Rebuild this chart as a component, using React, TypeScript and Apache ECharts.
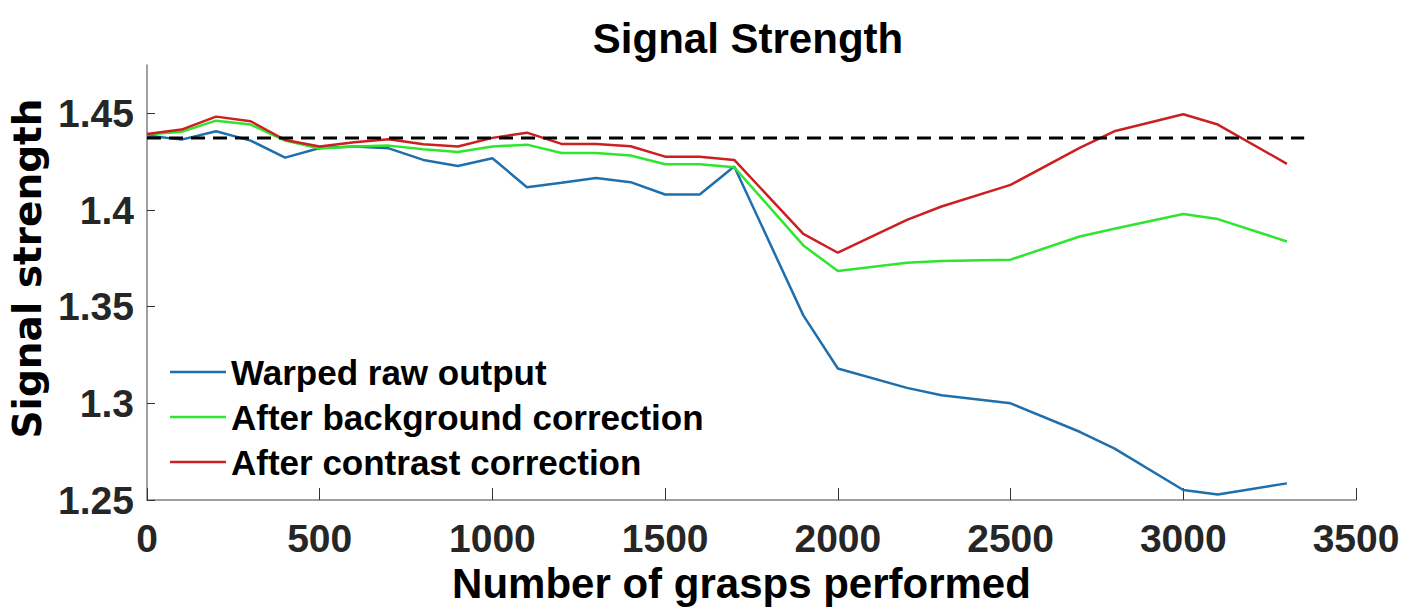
import React, { useEffect, useRef } from "react";
import * as echarts from "echarts";

const grasps = [0, 100, 200, 300, 400, 500, 600, 700, 800, 900, 1000, 1100, 1200, 1300, 1400, 1500, 1600, 1700, 1900, 2000, 2200, 2300, 2500, 2700, 2800, 3000, 3100, 3300];
const warpedRaw = [1.4385, 1.4364, 1.4407, 1.4359, 1.4271, 1.4321, 1.4328, 1.4319, 1.4259, 1.4228, 1.4268, 1.4118, 1.4141, 1.4166, 1.4144, 1.408, 1.408, 1.4225, 1.3455, 1.318, 1.308, 1.3042, 1.3, 1.2853, 1.2767, 1.2552, 1.2529, 1.2586];
const backgroundCorr = [1.439, 1.4405, 1.4462, 1.4442, 1.4359, 1.4318, 1.4328, 1.4333, 1.4314, 1.43, 1.4328, 1.4338, 1.4295, 1.4295, 1.4282, 1.4237, 1.4237, 1.4221, 1.3817, 1.3684, 1.3727, 1.3736, 1.3743, 1.3863, 1.3903, 1.3979, 1.3953, 1.3837];
const contrastCorr = [1.4393, 1.4416, 1.4483, 1.4459, 1.4362, 1.4328, 1.435, 1.4366, 1.434, 1.4328, 1.4373, 1.44, 1.4342, 1.4342, 1.433, 1.4276, 1.4276, 1.4259, 1.3877, 1.3779, 1.3949, 1.4018, 1.413, 1.4321, 1.4407, 1.4495, 1.4442, 1.4239];
const referenceX = [0, 3350];
const referenceLevel = 1.4373;
const yTicks = [1.25, 1.3, 1.35, 1.4, 1.45];
const seriesNames = ["Warped raw output", "After background correction", "After contrast correction"];

export default function App() {
  const ref = useRef<HTMLDivElement>(null);
  useEffect(() => {
    if (!ref.current) return;
    const chart = echarts.init(ref.current, null, { renderer: "svg" });
    const pair = (ys: number[]) => grasps.map((x, i) => [x, ys[i]]);
    const lineSeries = (name: string, ys: number[], color: string) => ({
      name,
      type: "line",
      data: pair(ys),
      symbol: "none",
      showSymbol: false,
      lineStyle: { color, width: 2.5 },
      itemStyle: { color },
      z: 3,
    });
    chart.setOption({
      animation: false,
      backgroundColor: "#ffffff",
      graphic: [
        {
          type: "text",
          x: 748,
          y: 38,
          style: {
            text: "Signal Strength",
            fill: "#000",
            font: "bold 42px 'Liberation Sans', Arial, sans-serif",
            textAlign: "center",
            textVerticalAlign: "middle",
          },
        },
      ],
      grid: { left: 141, right: 56, top: 65, bottom: 110, containLabel: false },
      legend: {
        data: seriesNames,
        orient: "vertical",
        left: 165,
        top: 347,
        icon: "rect",
        itemWidth: 56,
        itemHeight: 2.5,
        itemGap: 5,
        textStyle: {
          fontSize: 35,
          fontWeight: "bold",
          color: "#000",
          fontFamily: "'Liberation Sans', Arial, sans-serif",
          lineHeight: 40,
        },
      },
      xAxis: {
        type: "value",
        min: 0,
        max: 3500,
        interval: 500,
        name: "Number of grasps performed",
        nameLocation: "middle",
        nameGap: 52,
        nameTextStyle: {
          fontSize: 42,
          fontWeight: "bold",
          color: "#000",
          fontFamily: "'Liberation Sans', Arial, sans-serif",
          padding: [0, 20, 0, 0],
        },
        axisLine: { show: true, lineStyle: { color: "#808080", width: 1.5 } },
        axisTick: { show: true, inside: true, length: 12, lineStyle: { color: "#333", width: 1 } },
        axisLabel: {
          fontSize: 39,
          fontWeight: "bold",
          color: "#262626",
          margin: 19,
          fontFamily: "'Liberation Sans', Arial, sans-serif",
          formatter: (v: number) => String(v),
        },
        splitLine: { show: false },
      },
      yAxis: {
        type: "value",
        min: 1.25,
        max: 1.475,
        name: "Signal strength",
        nameLocation: "middle",
        nameGap: 100,
        nameTextStyle: {
          fontSize: 39,
          fontWeight: "bold",
          color: "#000",
          fontFamily: "'DejaVu Sans', sans-serif",
          padding: [0, 0, 0, 28],
        },
        axisLine: { show: true, lineStyle: { color: "#808080", width: 1.5 } },
        axisTick: { show: true, inside: true, length: 8, customValues: yTicks, lineStyle: { color: "#333", width: 1 } },
        axisLabel: {
          fontSize: 39,
          fontWeight: "bold",
          color: "#262626",
          margin: 13,
          customValues: yTicks,
          fontFamily: "'Liberation Sans', Arial, sans-serif",
          formatter: (v: number) => String(+v.toFixed(2)),
        },
        splitLine: { show: false },
      },
      series: [
        lineSeries(seriesNames[0], warpedRaw, "#1f6fad"),
        lineSeries(seriesNames[1], backgroundCorr, "#2ee62e"),
        lineSeries(seriesNames[2], contrastCorr, "#cc1f1f"),
        {
          name: "reference",
          type: "line",
          data: referenceX.map((x) => [x, referenceLevel]),
          symbol: "none",
          lineStyle: { color: "#000", width: 3, type: [14, 8] },
          z: 4,
        },
      ],
    });
    return () => chart.dispose();
  }, []);
  return <div ref={ref} style={{ position: "fixed", left: 0, top: 0, width: 1412, height: 610 }} />;
}
